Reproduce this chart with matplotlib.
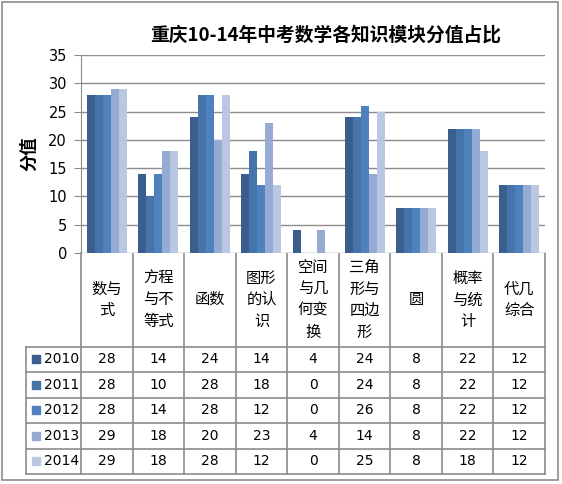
import matplotlib.pyplot as plt
from matplotlib.patches import Rectangle
import numpy as np

plt.rcParams['font.family'] = ['Noto Sans CJK SC', 'DejaVu Sans']

# --- data ---
categories = ["数与式", "方程与不等式", "函数", "图形的认识", "空间与几何变换",
              "三角形与四边形", "圆", "概率与统计", "代几综合"]
years = ["2010", "2011", "2012", "2013", "2014"]
v2010 = [28, 14, 24, 14, 4, 24, 8, 22, 12]
v2011 = [28, 10, 28, 18, 0, 24, 8, 22, 12]
v2012 = [28, 14, 28, 12, 0, 26, 8, 22, 12]
v2013 = [29, 18, 20, 23, 4, 14, 8, 22, 12]
v2014 = [29, 18, 28, 12, 0, 25, 8, 18, 12]
series = [v2010, v2011, v2012, v2013, v2014]
colors = ["#3A5F8F", "#4674AA", "#4F81BD", "#95ABD4", "#B9C7E2"]

W, H = 562, 484
fig = plt.figure(figsize=(W / 100, H / 100), dpi=100)

# pixel layout
L, R, T, B = 81, 545, 55, 253
col_w = (R - L) / len(categories)
row_tops = [346.5, 372, 397.5, 423, 448.5]
row_h = 25.5
leg_l = 26

# overlay axes in pixel coordinates for table & frame
ov = fig.add_axes([0, 0, 1, 1])
ov.set_xlim(0, W)
ov.set_ylim(H, 0)
ov.axis('off')
ov.add_patch(Rectangle((2, 2), 556, 478, fill=False, ec="#8C8C8C", lw=1.2))

# bar chart
ax = fig.add_axes([L / W, (H - B) / H, (R - L) / W, (B - T) / H])
x = np.arange(len(categories))
bw = 0.155
for i, (vals, c) in enumerate(zip(series, colors)):
    ax.bar(x + (i - 2) * bw, vals, width=bw, color=c, zorder=3)
ax.set_xlim(-0.5, len(categories) - 0.5)
ax.set_ylim(0, 35)
ax.set_yticks(range(0, 36, 5))
ax.yaxis.grid(True, color="#8C8C8C", lw=1.0, zorder=0)
ax.set_xticks([])
for s in ["top", "right", "bottom"]:
    ax.spines[s].set_visible(False)
ax.spines["left"].set_color("#8C8C8C")
ax.tick_params(axis='y', length=5, color="#8C8C8C", labelsize=10.5, pad=5)
for lab in ax.get_yticklabels():
    lab.set_fontfamily('DejaVu Sans')
ax.set_ylabel("分值", fontsize=12.5, fontweight='bold')
ax.yaxis.set_label_coords(-0.093, 0.5)

fig.text(326 / W, 1 - 35 / H, "重庆10-14年中考数学各知识模块分值占比",
         ha='center', va='center', fontsize=13.5, fontweight='bold')

# table lines
gc = "#8C8C8C"
bottom = row_tops[-1] + row_h
for k in range(len(categories) + 1):
    xx = L + k * col_w
    ov.plot([xx, xx], [B, bottom], color=gc, lw=1.2)
ov.plot([leg_l, leg_l], [row_tops[0], bottom], color=gc, lw=1.2)
for yy in row_tops + [bottom]:
    ov.plot([leg_l, R], [yy, yy], color=gc, lw=1.2)

# header labels (2 chars per line)
for k, cat in enumerate(categories):
    lines = [cat[j:j + 2] for j in range(0, len(cat), 2)]
    cx = L + (k + 0.5) * col_w
    n = len(lines)
    for j, ln in enumerate(lines):
        cy = (B + row_tops[0]) / 2 + (j - (n - 1) / 2) * 21.5
        ov.text(cx, cy, ln, ha='center', va='center', fontsize=11)

# rows
for r, (yr, vals, c) in enumerate(zip(years, series, colors)):
    cy = row_tops[r] + row_h / 2
    ov.add_patch(Rectangle((32, cy - 4), 8, 8, color=c))
    ov.text(44, cy, yr, ha='left', va='center', fontsize=10, family='DejaVu Sans')
    for k, v in enumerate(vals):
        ov.text(L + (k + 0.5) * col_w, cy, str(v), ha='center', va='center',
                fontsize=10, family='DejaVu Sans')

fig.savefig("out.png", dpi=100)
